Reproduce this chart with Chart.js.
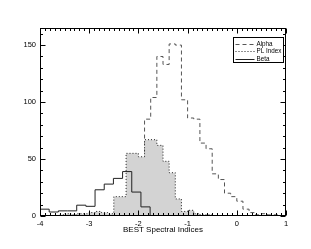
<!DOCTYPE html>
<html lang="en">
<head>
  <meta charset="UTF-8">
  <title>BEST Spectral Indices</title>
  <script src="https://cdn.jsdelivr.net/npm/chart.js"></script>
  <style>
    body { margin: 0; background: #fff; }
  </style>
</head>
<body>
  <canvas id="indexChart" width="311" height="249"></canvas>

  <script>
    // Alpha and PL Index share 40 bins of 0.125 from -4 to 1
    const binStart = -4;
    const binWidth = 0.125;
    const alphaCounts = [
      0, 0, 0, 0, 0, 0, 0, 0, 0, 0,
      0, 0, 0, 0, 2, 10, 40, 85, 104, 140,
      133, 151, 150, 102, 86, 85, 64, 59, 37, 32,
      20, 17, 13, 6, 3, 1, 2, 1, 1, 0
    ];
    const plCounts = [
      0, 0, 0, 1, 2, 1, 2, 2, 3, 4,
      3, 2, 17, 17, 55, 55, 52, 67, 67, 62,
      48, 38, 15, 4, 5, 2, 1, 1, 0, 0,
      0, 0, 0, 0, 0, 0, 0, 0, 0, 0
    ];
    // Beta has its own, wider bins
    const betaStart = -4;
    const betaWidth = 0.1865;
    const betaCounts = [6, 3.5, 4.5, 4.5, 9.5, 8.5, 23, 28, 33, 39, 21, 8];

    const xTicks = [-4, -3, -2, -1, 0, 1];
    const yTicks = [0, 50, 100, 150];

    const FONT = "'Liberation Sans', Arial, sans-serif";

    // histogram outline as points at the bin edges (drawn with stepped lines)
    function histPoints(start, width, counts) {
      const pts = [{x: start, y: 0}];
      counts.forEach((c, i) => pts.push({x: start + i * width, y: c}));
      pts.push({x: start + counts.length * width, y: 0});
      return pts;
    }

    const series = [
      {label: 'Alpha', data: histPoints(binStart, binWidth, alphaCounts),
       borderColor: '#555', borderDash: [4, 3], order: 3},
      {label: 'PL Index', data: histPoints(binStart, binWidth, plCounts),
       borderColor: '#222', borderDash: [1, 2], fill: 'origin',
       backgroundColor: '#d3d3d3', order: 2},
      {label: 'Beta', data: histPoints(betaStart, betaWidth, betaCounts),
       borderColor: '#222', borderDash: [], order: 1}
    ];

    // box frame, inward major/minor ticks on all sides, and the inset legend
    const frameAndLegend = {
      id: 'frameAndLegend',
      afterDraw(chart) {
        const {ctx, chartArea: a, scales: {x, y}} = chart;
        const L = Math.round(a.left) + 0.5, R = Math.round(a.right) - 0.5;
        const T = Math.round(a.top) + 0.5, B = Math.round(a.bottom) - 0.5;
        ctx.save();
        ctx.strokeStyle = '#000';
        ctx.lineWidth = 1;
        ctx.setLineDash([]);
        ctx.strokeRect(L, T, R - L, B - T);

        ctx.beginPath();
        for (let i = 0; i <= 50; i++) {
          const px = Math.round(x.getPixelForValue(xTicks[0] + i * 0.1)) + 0.5;
          const len = i % 10 === 0 ? 5 : 2.5;
          ctx.moveTo(px, B); ctx.lineTo(px, B - len);
          ctx.moveTo(px, T); ctx.lineTo(px, T + len);
        }
        for (let v = 0; v <= y.max; v += 10) {
          const py = Math.round(y.getPixelForValue(v)) + 0.5;
          const len = v % 50 === 0 ? 5 : 2.5;
          ctx.moveTo(L, py); ctx.lineTo(L + len, py);
          ctx.moveTo(R, py); ctx.lineTo(R - len, py);
        }
        ctx.stroke();

        // legend
        const bx = R - 52, by = T + 9, bw = 50, bh = 25;
        ctx.fillStyle = '#fff';
        ctx.fillRect(bx, by, bw, bh);
        ctx.strokeRect(bx, by, bw, bh);
        ctx.font = '6.3px ' + FONT;
        ctx.textBaseline = 'middle';
        ctx.fillStyle = '#000';
        series.forEach((s, i) => {
          const ly = Math.round(by + 6 + i * 7.5) + 0.5;
          ctx.strokeStyle = s.borderColor;
          ctx.setLineDash(s.borderDash);
          ctx.beginPath();
          ctx.moveTo(bx + 2, ly); ctx.lineTo(bx + 21, ly);
          ctx.stroke();
          ctx.fillText(s.label, bx + 23, ly);
        });
        ctx.restore();
      }
    };

    new Chart(document.getElementById('indexChart'), {
      type: 'line',
      data: {
        datasets: series.map(s => Object.assign({
          borderWidth: 1,
          pointRadius: 0,
          stepped: 'before',
          fill: false
        }, s))
      },
      options: {
        responsive: false,
        animation: false,
        layout: {padding: {top: 28, right: 25, left: 0, bottom: 0}},
        plugins: {legend: {display: false}, tooltip: {enabled: false}},
        scales: {
          x: {
            type: 'linear',
            min: -4,
            max: 1,
            afterBuildTicks: s => { s.ticks = xTicks.map(v => ({value: v})); },
            afterFit: s => { s.height = 33; },
            grid: {display: false, drawTicks: false},
            border: {display: false},
            ticks: {color: '#000', padding: 3, font: {family: FONT, size: 7.5}},
            title: {
              display: true,
              text: 'BEST Spectral Indices',
              color: '#000',
              font: {family: FONT, size: 8},
              padding: {top: 0, bottom: 14}
            }
          },
          y: {
            min: 0,
            max: 165,
            afterBuildTicks: s => { s.ticks = yTicks.map(v => ({value: v})); },
            afterFit: s => { s.width = 40; },
            grid: {display: false, drawTicks: false},
            border: {display: false},
            ticks: {color: '#000', padding: 4, font: {family: FONT, size: 7.5}}
          }
        }
      },
      plugins: [frameAndLegend]
    });
  </script>
</body>
</html>
